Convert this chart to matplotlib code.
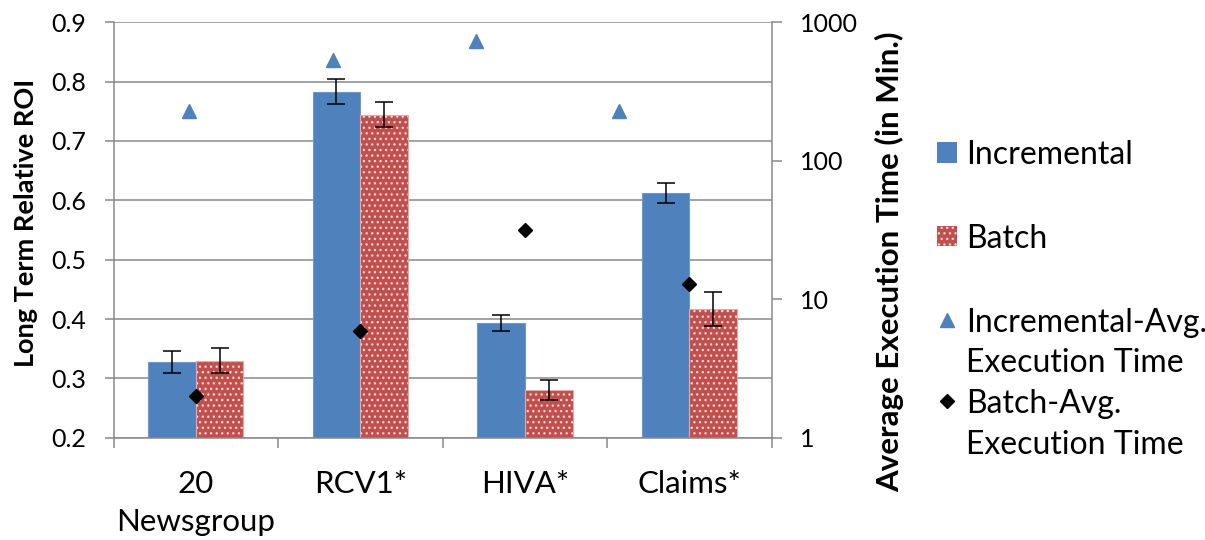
import matplotlib
matplotlib.use("Agg")
import matplotlib.pyplot as plt
from matplotlib.patches import Rectangle
from matplotlib.lines import Line2D
import numpy as np

plt.rcParams['font.family'] = ['Lato', 'DejaVu Sans']
plt.rcParams['hatch.linewidth'] = 0.9

# ---- data ----
categories = ["20\nNewsgroup", "RCV1*", "HIVA*", "Claims*"]
roi_incremental = [0.327, 0.783, 0.393, 0.613]
roi_incremental_err = [0.0185, 0.021, 0.014, 0.017]
roi_batch = [0.330, 0.744, 0.280, 0.417]
roi_batch_err = [0.021, 0.021, 0.017, 0.029]
time_incremental = [228, 532, 735, 228]      # minutes
time_batch = [2.0, 5.9, 31.6, 12.8]           # minutes
series_labels = ["Incremental", "Batch",
                 "Incremental-Avg.\nExecution Time",
                 "Batch-Avg.\nExecution Time"]

BLUE = "#4F81BD"
RED = "#C0504D"
DOTS = "#F6DADA"
GRID = "#898989"
HATCH = "..."

fig = plt.figure(figsize=(12.05, 5.40), dpi=100)
W, H = 1205, 540
ax_rect = [113.5 / W, 1 - 437.7 / H, (771.7 - 113.5) / W, (437.7 - 22.3) / H]
ax = fig.add_axes(ax_rect)

x = np.arange(len(categories))
bw = 0.29

# gridlines behind the bars
ax.set_axisbelow(True)
ax.yaxis.grid(True, color=GRID, linewidth=1.1)

ax.bar(x - bw / 2, roi_incremental, bw, color=BLUE, edgecolor="#6F97C9",
       linewidth=0.8, zorder=2)
ax.bar(x + bw / 2, roi_batch, bw, color=RED, edgecolor=DOTS,
       hatch=HATCH, linewidth=0, zorder=2)
ax.bar(x + bw / 2, roi_batch, bw, facecolor="none", edgecolor="#E4A9A8",
       linewidth=0.8, zorder=2)
ax.errorbar(x - bw / 2, roi_incremental, yerr=roi_incremental_err, fmt="none",
            ecolor="black", elinewidth=1.1, capsize=6.5, capthick=1.1, zorder=3)
ax.errorbar(x + bw / 2, roi_batch, yerr=roi_batch_err, fmt="none",
            ecolor="black", elinewidth=1.1, capsize=6.5, capthick=1.1, zorder=3)

ax.set_xlim(-0.5, len(categories) - 0.5)
ax.set_ylim(0.2, 0.9)
ax.set_yticks(np.arange(0.2, 0.91, 0.1))
ax.set_yticklabels([f"{v:.1f}" for v in np.arange(0.2, 0.91, 0.1)])

# category ticks at the boundaries, labels at the centres
ax.set_xticks(np.arange(-0.5, len(categories), 1.0))
ax.set_xticklabels([])
ax.set_xticks(x, minor=True)
ax.set_xticklabels(categories, minor=True, fontsize=22.5)
for lbl in ax.get_xticklabels(minor=True):
    lbl.set_linespacing(1.45)
ax.tick_params(axis="x", which="major", direction="out", length=7,
               width=1.1, color=GRID)
ax.tick_params(axis="x", which="minor", length=0, pad=23)
ax.tick_params(axis="y", direction="out", length=6.5, width=1.1, color=GRID,
               labelsize=18, pad=13)

for side in ("top", "right"):
    ax.spines[side].set_visible(False)
for side in ("left", "bottom"):
    ax.spines[side].set_color(GRID)
    ax.spines[side].set_linewidth(1.1)

ax.set_ylabel("Long Term Relative ROI", fontsize=19.5, fontweight="bold")
ax.yaxis.set_label_coords(-0.1147, 0.517)

# secondary log axis for the execution times
ax2 = ax.twinx()
ax2.set_yscale("log")
ax2.set_ylim(1, 1000)
ax2.set_yticks([1, 10, 100, 1000])
ax2.set_yticklabels(["1", "10", "100", "1000"])
ax2.yaxis.set_minor_locator(matplotlib.ticker.NullLocator())
ax2.tick_params(axis="y", direction="out", length=7, width=1.1, color=GRID,
                labelsize=18, pad=13)
for side in ("top", "left", "bottom"):
    ax2.spines[side].set_visible(False)
ax2.spines["right"].set_color(GRID)
ax2.spines["right"].set_linewidth(1.1)
ax2.set_ylabel("Average Execution Time (in Min.)", fontsize=22.5,
               fontweight="bold", rotation=90)
ax2.yaxis.set_label_coords(1.157, 0.423)

ax2.plot(x, time_batch, linestyle="none", marker="D", markersize=7.5,
         color="black", zorder=4)

# incremental timings live on their own x scale
ax3 = fig.add_axes(ax_rect, sharey=ax2)
ax3.patch.set_visible(False)
ax3.axis("off")
t = np.arange(1, len(time_incremental) + 1)
ax3.plot(t, time_incremental, linestyle="none", marker="^", markersize=10.5,
         color=BLUE, zorder=4)
ax3.set_xlim(0.472, 5.062)
ax3.set_ylim(1, 1000)

# legend
def fy(py):
    return 1 - py / H

mx = 946.7 / W
tx = 965.7 / W
fs = 23
line_step = 41
entries = [
    ("square", series_labels[0], 152.5),
    ("hatch", series_labels[1], 236),
    ("tri", series_labels[2], 319.5),
    ("dia", series_labels[3], 401),
]
sq = 20
for kind, label, yc in entries:
    if kind in ("square", "hatch"):
        r = Rectangle(((946.7 - sq / 2) / W, fy(yc + sq / 2)), sq / W, sq / H,
                      transform=fig.transFigure,
                      facecolor=BLUE if kind == "square" else RED,
                      edgecolor=DOTS if kind == "hatch" else BLUE,
                      hatch=HATCH if kind == "hatch" else None,
                      linewidth=0)
        fig.add_artist(r)
    elif kind == "tri":
        fig.add_artist(Line2D([mx], [fy(yc)], transform=fig.transFigure,
                              marker="^", markersize=10.5, color=BLUE,
                              linestyle="none"))
    else:
        fig.add_artist(Line2D([mx], [fy(yc)], transform=fig.transFigure,
                              marker="D", markersize=7.5, color="black",
                              linestyle="none"))
    for i, line in enumerate(label.split("\n")):
        fig.text(tx, fy(yc + i * line_step), line, fontsize=fs,
                 ha="left", va="center_baseline")

fig.savefig("out.png", dpi=100)
